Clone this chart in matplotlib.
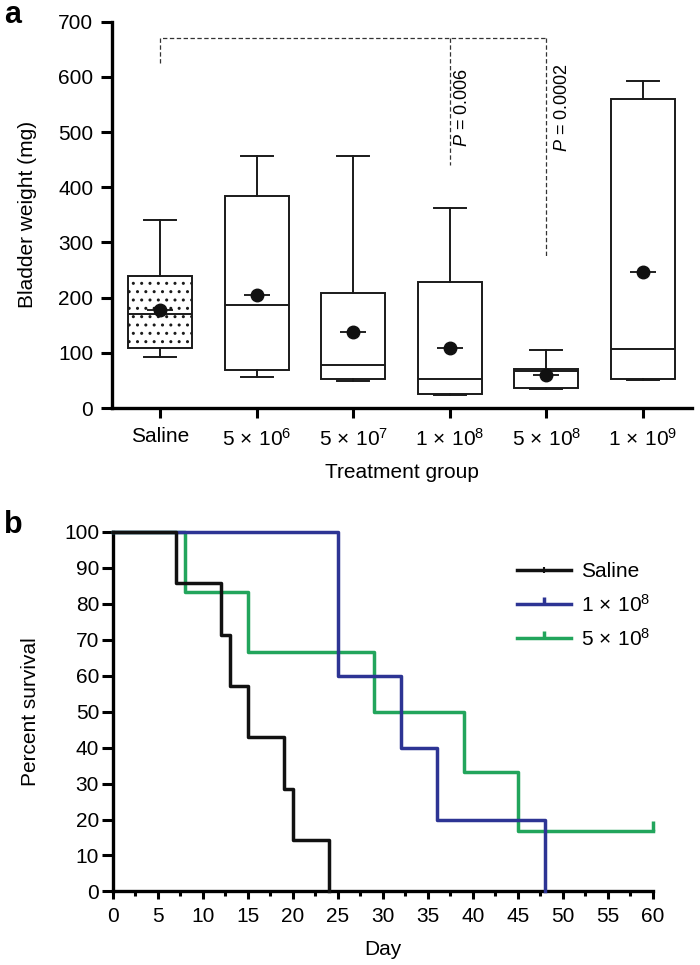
import matplotlib
matplotlib.use("Agg")
import matplotlib.pyplot as plt
from matplotlib.ticker import MultipleLocator
from matplotlib.lines import Line2D

plt.rcParams['font.family'] = ['Liberation Sans', 'DejaVu Sans']
plt.rcParams['mathtext.fontset'] = 'custom'
plt.rcParams['mathtext.rm'] = 'Liberation Sans'
plt.rcParams['mathtext.it'] = 'Liberation Sans:italic'
plt.rcParams['mathtext.bf'] = 'Liberation Sans:bold'
plt.rcParams['hatch.linewidth'] = 1.0

FS = 15

# ---------------- Panel a data ----------------
groups = ['Saline', r'$5\,\times\,10^{6}$', r'$5\,\times\,10^{7}$', r'$1\,\times\,10^{8}$',
          r'$5\,\times\,10^{8}$', r'$1\,\times\,10^{9}$']
whisker_low = [92, 56, 49, 24, 34, 50]
q1 = [108, 69, 53, 25, 37, 52]
median = [170, 186, 78, 53, 67, 107]
q3 = [240, 384, 209, 228, 70, 560]
whisker_high = [340, 457, 457, 362, 106, 593]
means = [178, 204, 137, 108, 60, 246]

bracket_top = 670
bracket_left_bottom = 625
p_lines = [(3, 441, 'P = 0.006'), (4, 273, 'P = 0.0002')]

# ---------------- Panel b data ----------------
saline_days = [0, 7, 12, 13, 15, 19, 20, 24]
saline_surv = [100, 85.7, 71.4, 57.1, 42.9, 28.6, 14.3, 0]
d1e8_days = [0, 25, 32, 36, 48]
d1e8_surv = [100, 60, 40, 20, 0]
d5e8_days = [0, 8, 15, 29, 39, 45, 60]
d5e8_surv = [100, 83.3, 66.7, 50, 33.3, 16.7, 16.7]
legend_labels = ['Saline', r'$1\,\times\,10^{8}$', r'$5\,\times\,10^{8}$']

c_black = '#111111'
c_blue = '#2d3494'
c_green = '#22a55c'

fig = plt.figure(figsize=(7, 9.65), dpi=100)

# ================= Panel a =================
ax = fig.add_axes([0.16, 0.5772, 0.8286, 0.4003])
stats = []
for i in range(len(groups)):
    stats.append(dict(med=median[i], q1=q1[i], q3=q3[i],
                      whislo=whisker_low[i], whishi=whisker_high[i], fliers=[]))
pos = list(range(len(groups)))
bp = ax.bxp(stats, positions=pos, widths=0.66, patch_artist=True, showfliers=False,
            boxprops=dict(facecolor='white', edgecolor='#1a1a1a', linewidth=1.4),
            medianprops=dict(color='#1a1a1a', linewidth=1.4),
            whiskerprops=dict(color='#1a1a1a', linewidth=1.4),
            capprops=dict(color='#1a1a1a', linewidth=1.4))
bp['boxes'][0].set_hatch('..')

ax.plot(pos, means, linestyle='none', marker='_', markersize=19, markeredgewidth=1.3,
        color='#111111', zorder=5)
ax.plot(pos, means, linestyle='none', marker='o', markersize=9, color='#111111', zorder=6)

dash = dict(color='#333333', linewidth=0.9, linestyle=(0, (3.5, 2)))
ax.plot([0, 0, 4], [bracket_left_bottom, bracket_top, bracket_top], **dash)
for x, yb, txt in p_lines:
    ax.plot([x, x], [bracket_top, yb], **dash)
ax.text(3.13, 545, r'$P$ = 0.006', rotation=90, ha='center', va='center', fontsize=13)
ax.text(4.17, 545, r'$P$ = 0.0002', rotation=90, ha='center', va='center', fontsize=13)

ax.set_xlim(-0.5, 5.51)
ax.set_ylim(0, 700)
ax.set_yticks(range(0, 701, 100))
ax.set_xticks(pos)
ax.set_xticklabels(groups, fontsize=FS)
ax.tick_params(axis='y', labelsize=FS, length=8, width=2.2, pad=5.5)
ax.tick_params(axis='x', length=7, width=2.2, pad=7)
for s in ['top', 'right']:
    ax.spines[s].set_visible(False)
for s in ['left', 'bottom']:
    ax.spines[s].set_linewidth(2.4)
ax.set_ylabel('Bladder weight (mg)', fontsize=FS)
ax.yaxis.set_label_coords(-0.129, 0.5)
ax.set_xlabel('Treatment group', fontsize=FS, labelpad=10)
fig.text(0.006, 0.9762, 'a', fontsize=22, fontweight='bold', va='baseline', ha='left')

# ================= Panel b =================
bx = fig.add_axes([0.1614, 0.0762, 0.771, 0.3728])
bx.plot(d5e8_days, d5e8_surv, drawstyle='steps-post', color=c_green, linewidth=2.5,
        clip_on=False, zorder=3)
bx.plot(d1e8_days, d1e8_surv, drawstyle='steps-post', color=c_blue, linewidth=2.5,
        clip_on=False, zorder=4)
bx.plot(saline_days, saline_surv, drawstyle='steps-post', color=c_black, linewidth=2.5,
        clip_on=False, zorder=5)
tick_marker = [(0, 0), (0, 1)]
bx.plot([d5e8_days[-1]], [d5e8_surv[-1]], linestyle='none', marker=tick_marker,
        markersize=15, markeredgewidth=2.5, color=c_green, clip_on=False, zorder=3)

bx.set_xlim(0, 60)
bx.set_ylim(0, 100)
bx.xaxis.set_major_locator(MultipleLocator(5))
bx.xaxis.set_minor_locator(MultipleLocator(2.5))
bx.yaxis.set_major_locator(MultipleLocator(10))
bx.tick_params(axis='both', which='major', labelsize=FS, width=2.2)
bx.tick_params(axis='y', which='major', length=8, pad=2)
bx.tick_params(axis='x', which='major', length=6, pad=5)
bx.tick_params(axis='x', which='minor', length=3.5, width=2.2)
for s in ['top', 'right']:
    bx.spines[s].set_visible(False)
for s in ['left', 'bottom']:
    bx.spines[s].set_linewidth(2.4)
bx.set_ylabel('Percent survival', fontsize=FS)
bx.yaxis.set_label_coords(-0.135, 0.5)
bx.set_xlabel('Day', fontsize=FS, labelpad=10)
fig.text(0.006, 0.4477, 'b', fontsize=22, fontweight='bold', va='baseline', ha='left')

handles = [
    Line2D([], [], color=c_black, linewidth=2.5, marker='|', markersize=5,
           markeredgewidth=1.5),
    Line2D([], [], color=c_blue, linewidth=2.5, marker=tick_marker, markersize=10,
           markeredgewidth=2.5),
    Line2D([], [], color=c_green, linewidth=2.5, marker=tick_marker, markersize=10,
           markeredgewidth=2.5),
]
leg = bx.legend(handles, legend_labels,
                loc='upper left', bbox_to_anchor=(0.729, 0.945), frameon=False,
                fontsize=FS, handlelength=2.6, handletextpad=0.5, labelspacing=0.6,
                borderpad=0, numpoints=1)

fig.savefig('out.png', dpi=100)
